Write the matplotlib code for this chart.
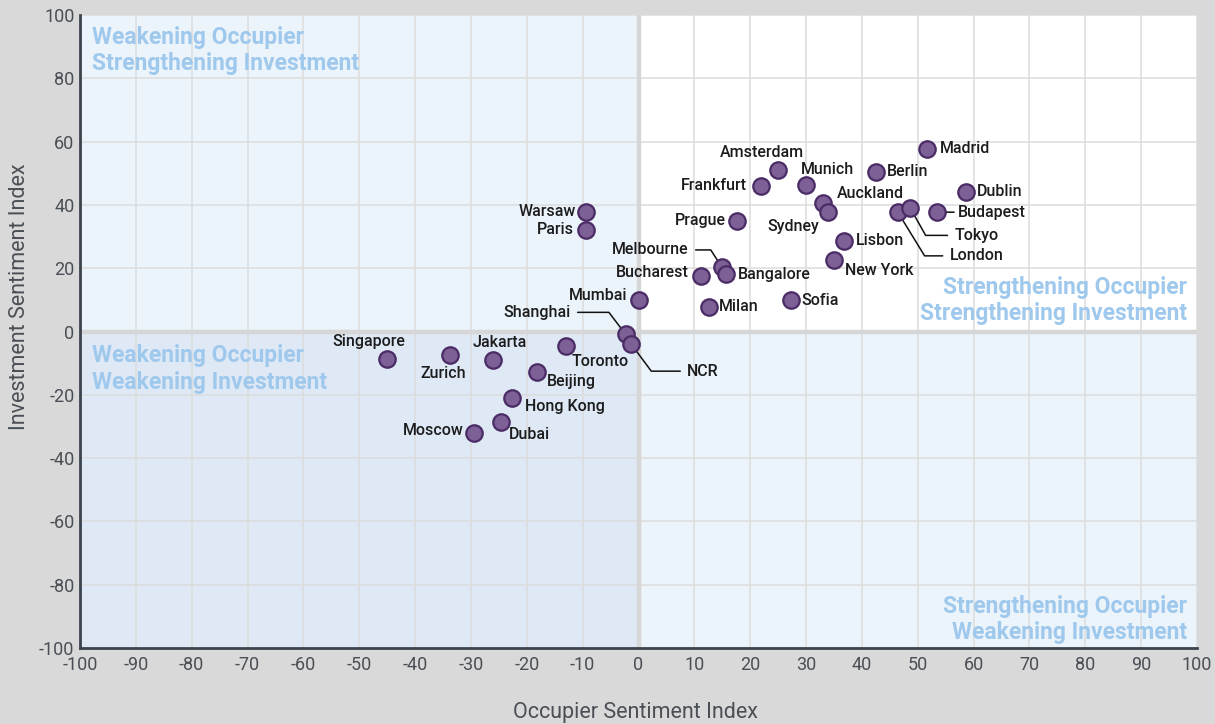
import matplotlib
matplotlib.use("Agg")
import matplotlib.pyplot as plt
from matplotlib.patches import Rectangle

plt.rcParams['font.family'] = ['Roboto', 'DejaVu Sans']
plt.rcParams['axes.unicode_minus'] = False

# data
cities = ["Madrid", "Amsterdam", "Berlin", "Munich", "Frankfurt", "Dublin",
          "Auckland", "Sydney", "London", "Tokyo", "Budapest", "Warsaw",
          "Paris", "Prague", "Lisbon", "New York", "Melbourne", "Bangalore",
          "Bucharest", "Mumbai", "Milan", "Sofia", "Shanghai", "NCR",
          "Singapore", "Zurich", "Jakarta", "Toronto", "Beijing", "Hong Kong",
          "Dubai", "Moscow"]
occupier = [51.6, 24.9, 42.6, 30.0, 22.0, 58.7,
            33.1, 34.0, 46.4, 48.7, 53.5, -9.4,
            -9.4, 17.6, 36.8, 35.0, 14.9, 15.7,
            11.2, 0.0, 12.7, 27.3, -2.3, -1.3,
            -45.0, -33.7, -26.1, -12.9, -18.2, -22.7,
            -24.7, -29.4]
investment = [57.8, 51.0, 50.5, 46.3, 46.0, 44.1,
              40.5, 37.8, 37.8, 38.9, 37.7, 37.9,
              32.2, 35.0, 28.7, 22.7, 20.4, 18.3,
              17.6, 9.9, 7.8, 9.9, -0.9, -4.0,
              -8.8, -7.4, -9.1, -4.5, -12.7, -20.9,
              -28.6, -32.0]

x_ticks = list(range(-100, 101, 10))
y_ticks = list(range(-100, 101, 20))

# label placement: (dx px, dy px, ha, leader angle or None)
label_pos = {
    "Madrid": (13, 0, "left", None),
    "Amsterdam": (-16, 18, "center", None),
    "Berlin": (10, 0, "left", None),
    "Munich": (-5, 15, "left", None),
    "Frankfurt": (-14, 0, "right", None),
    "Dublin": (11, 0, "left", None),
    "Auckland": (13, 10, "left", None),
    "Sydney": (-9, -15, "right", None),
    "London": (52, -44, "left", -58.5),
    "Tokyo": (44, -27, "left", -60.7),
    "Budapest": (21, 0, "left", "straight"),
    "Warsaw": (-10, 0, "right", None),
    "Paris": (-12, 0, "right", None),
    "Prague": (-11, 0, "right", None),
    "Lisbon": (12, 0, "left", None),
    "New York": (11, -11, "left", None),
    "Melbourne": (-33, 17, "right", -57.2),
    "Bangalore": (12, -1, "left", None),
    "Bucharest": (-12, 3, "right", None),
    "Mumbai": (-11, 5, "right", None),
    "Milan": (9, 0, "left", None),
    "Sofia": (10, 0, "left", None),
    "Shanghai": (-55, 22, "right", -52.7),
    "NCR": (56, -27, "left", -53.4),
    "Singapore": (-18, 18, "center", None),
    "Zurich": (-7, -19, "center", None),
    "Jakarta": (7, 18, "center", None),
    "Toronto": (5, -16, "left", None),
    "Beijing": (10, -10, "left", None),
    "Hong Kong": (13, -9, "left", None),
    "Dubai": (8, -12, "left", None),
    "Moscow": (-11, 2, "right", None),
}

fig = plt.figure(figsize=(12.15, 7.24), dpi=100, facecolor="#d9d9d9")
ax = fig.add_axes([80 / 1215, 1 - 648 / 724, 1117 / 1215, 633 / 724])

# quadrant backgrounds
ax.add_patch(Rectangle((-100, 0), 100, 100, color="#ebf3fb", zorder=0))
ax.add_patch(Rectangle((0, 0), 100, 100, color="white", zorder=0))
ax.add_patch(Rectangle((-100, -100), 100, 100, color="#dfe9f6", zorder=0))
ax.add_patch(Rectangle((0, -100), 100, 100, color="#ebf3fb", zorder=0))

ax.set_xlim(-100, 100)
ax.set_ylim(-100, 100)
ax.set_xticks(x_ticks)
ax.set_yticks(y_ticks)
ax.grid(True, color="#dcdcdc", linewidth=1.1, zorder=1)
ax.set_axisbelow(True)
ax.axvline(0, color="#d6d6d6", linewidth=3.2, zorder=1.5)
ax.axhline(0, color="#d6d6d6", linewidth=3.2, zorder=1.5)

for s in ["top", "right"]:
    ax.spines[s].set_visible(False)
for s in ["left", "bottom"]:
    ax.spines[s].set_color("#3c434d")
    ax.spines[s].set_linewidth(2)
    ax.spines[s].set_zorder(5)

ax.tick_params(length=0, labelsize=13, labelcolor="#4a4f55")
ax.tick_params(axis="x", pad=6)
ax.tick_params(axis="y", pad=4)

ax.set_xlabel("Occupier Sentiment Index", fontsize=15.5, color="#4a4f55",
              va="center")
ax.xaxis.set_label_coords(0.497, -0.102)
ax.set_ylabel("Investment Sentiment Index", fontsize=15.5, color="#4a4f55",
              va="center")
ax.yaxis.set_label_coords(-0.0545, 0.555)

# quadrant captions
qcol = "#9fc8ed"
qkw = dict(transform=ax.transAxes, va="center", color=qcol,
           fontsize=16.5, fontweight="bold", linespacing=1.2)
ax.text(0.0107, 0.944, "Weakening Occupier\nStrengthening Investment",
        ha="left", **qkw)
ax.text(0.0107, 0.441, "Weakening Occupier\nWeakening Investment",
        ha="left", **qkw)
ax.text(0.991, 0.549, "Strengthening Occupier\nStrengthening Investment",
        ha="right", multialignment="right", **qkw)
ax.text(0.991, 0.045, "Strengthening Occupier\nWeakening Investment",
        ha="right", multialignment="right", **qkw)

ax.scatter(occupier, investment, s=140, facecolor="#7d6096",
           edgecolor="#4a2b66", linewidth=1.6, zorder=4)

for name, xv, yv in zip(cities, occupier, investment):
    dx, dy, ha, leader = label_pos[name]
    kw = {}
    if leader is not None:
        relx = 0 if ha == "left" else 1
        if leader == "straight":
            cs = "arc3"
            shrink_a = 1
        else:
            cs = "angle,angleA=0,angleB=%s,rad=0" % leader
            shrink_a = 3
        kw["arrowprops"] = dict(arrowstyle="-", color="#111111", lw=1.1,
                                connectionstyle=cs, shrinkA=shrink_a, shrinkB=5,
                                relpos=(relx, 0.5))
    ax.annotate(name, (xv, yv), xytext=(dx, dy), textcoords="offset pixels",
                ha=ha, va="center", fontsize=11.5, fontweight="medium",
                color="#1c1c1c", zorder=3, **kw)

fig.savefig("out.png", dpi=100, facecolor=fig.get_facecolor())
